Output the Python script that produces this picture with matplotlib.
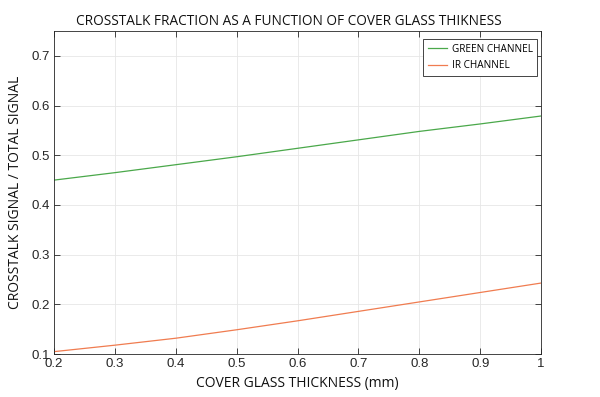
import matplotlib.pyplot as plt

# thickness in mm, crosstalk fraction per channel
thickness = [0.2, 0.3, 0.4, 0.5, 0.6, 0.7, 0.8, 0.9, 1.0]
green = [0.450, 0.465, 0.481, 0.497, 0.514, 0.531, 0.548, 0.563, 0.579]
ir = [0.105, 0.118, 0.132, 0.149, 0.167, 0.186, 0.205, 0.224, 0.243]

xticks = [0.2, 0.3, 0.4, 0.5, 0.6, 0.7, 0.8, 0.9, 1.0]
xticklabels = ['0.2', '0.3', '0.4', '0.5', '0.6', '0.7', '0.8', '0.9', '1']
yticks = [0.1, 0.2, 0.3, 0.4, 0.5, 0.6, 0.7]

fig = plt.figure(figsize=(6, 3.97), dpi=100)
ax = fig.add_axes([0.09, 0.108, 0.812, 0.814])

ax.plot(thickness, green, color='#4aa84a', lw=0.9, label='GREEN CHANNEL')
ax.plot(thickness, ir, color='#f07c50', lw=0.9, label='IR CHANNEL')

ax.set_xlim(0.2, 1.0)
ax.set_ylim(0.1, 0.75)
ax.set_xticks(xticks)
ax.set_xticklabels(xticklabels)
ax.set_yticks(yticks)
ax.tick_params(direction='in', top=True, right=True, length=4, width=0.6,
               labelsize=9.5, colors='#262626', pad=3)
for lab in ax.get_xticklabels() + ax.get_yticklabels():
    lab.set_family('Liberation Sans')
ax.grid(True, color='#e6e6e6', lw=0.6)
ax.set_axisbelow(True)
for s in ax.spines.values():
    s.set_color('#262626')
    s.set_linewidth(0.6)

ax.set_title('CROSSTALK FRACTION AS A FUNCTION OF COVER GLASS THIKNESS',
             family='Open Sans', fontsize=9.8, color='#111111', pad=4, x=0.482)
ax.set_xlabel('COVER GLASS THICKNESS (mm)', family='Open Sans', fontsize=10,
              color='#111111', labelpad=4)
ax.set_ylabel('CROSSTALK SIGNAL / TOTAL SIGNAL', family='Open Sans', fontsize=10,
              color='#111111', labelpad=6)

leg = ax.legend(loc='upper right', prop={'family': 'Open Sans', 'size': 7.2},
                fancybox=False, edgecolor='#262626', framealpha=1,
                handlelength=1.9, handletextpad=0.5, borderpad=0.45,
                labelspacing=0.55, borderaxespad=0,
                bbox_to_anchor=(0.992, 0.975))
leg.get_frame().set_linewidth(0.6)

fig.savefig('out.png', dpi=100)
